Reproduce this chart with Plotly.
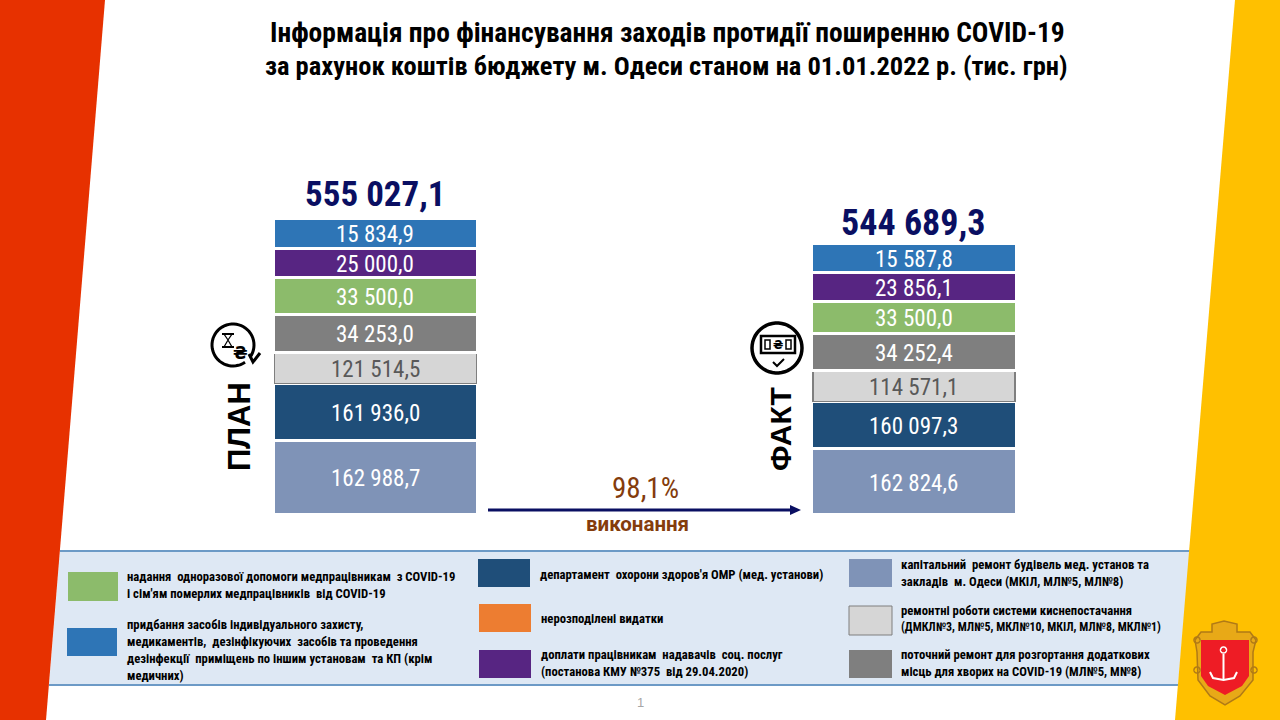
import math
import plotly.graph_objects as go

W, H = 1280, 720

columns = ["ПЛАН", "ФАКТ"]

# bottom to top, as stacked in the picture
series_names = [
    "капітальний ремонт",
    "департамент охорони здоров'я",
    "ремонтні роботи",
    "поточний ремонт",
    "одноразова допомога",
    "доплати",
    "засоби захисту",
]
plan_values = [162988.7, 161936.0, 121514.5, 34253.0, 33500.0, 25000.0, 15834.9]
fact_values = [162824.6, 160097.3, 114571.1, 34252.4, 33500.0, 23856.1, 15587.8]

# block heights, the blocks are not to scale with the labels
plan_heights = [74.5, 56.5, 31.5, 37.5, 37, 29.5, 29.5]
fact_heights = [66, 47, 31.5, 37, 32, 29, 28.5]

series_colors = ["#7F93B7", "#1F4E79", "#D6D6D6", "#7F7F7F", "#8CBB6B", "#572582", "#2E75B6"]
label_colors = ["white", "white", "#595959", "white", "white", "white", "white"]

plan_total = "555 027,1"
fact_total = "544 689,3"

title_lines = [
    "Інформація про фінансування заходів протидії поширенню COVID-19",
    "за рахунок коштів бюджету м. Одеси станом на 01.01.2022 р. (тис. грн)",
]

# colour, outline, swatch x, y, w, h, text x, text centre y, lines
legend_items = [
    ("#8CBB6B", None, 68, 572, 50, 29, 125, 585, ["надання  одноразової допомоги медпрацівникам  з COVID-19", "і сім'ям померлих медпрацівників  від COVID-19"]),
    ("#2E75B6", None, 67, 628, 50, 28, 125, 650, ["придбання засобів індивідуального захисту,", "медикаментів,  дезінфікуючих  засобів та проведення", "дезінфекції  приміщень по іншим установам  та КП (крім", "медичних)"]),
    ("#1F4E79", None, 478, 559, 52, 28, 538, 574, ["департамент  охорони здоров'я ОМР (мед. установи)"]),
    ("#ED7D31", None, 479, 604, 52, 28, 539, 618, ["нерозподілені видатки"]),
    ("#572582", None, 479, 650, 52, 28, 539, 663, ["доплати працівникам  надавачів  соц. послуг", "(постанова КМУ №375  від 29.04.2020)"]),
    ("#7F93B7", None, 849, 559, 43, 28, 899, 573, ["капітальний  ремонт будівель мед. установ та", "закладів  м. Одеси (МКІЛ, МЛ№5, МЛ№8)"]),
    ("#D6D6D6", "#7F7F7F", 849, 606, 43, 29, 899, 619, ["ремонтні роботи системи киснепостачання", "(ДМКЛ№3, МЛ№5, МКЛ№10, МКІЛ, МЛ№8, МКЛ№1)"]),
    ("#7F7F7F", None, 849, 650, 43, 28, 899, 663, ["поточний ремонт для розгортання додаткових", "місць для хворих на COVID-19 (МЛ№5, М№8)"]),
]

NARROW = "Roboto Condensed, Open Sans Condensed, Noto Sans Condensed, DejaVu Sans Condensed"
NAVY = "#0A0F62"
BROWN = "#843C0C"


def fmt(v):
    return f"{v:,.1f}".replace(",", " ").replace(".", ",")


def px(x):
    return x / W


def py(y):
    return 1 - y / H


def poly(points, fill, line=None, width=0, close=True, layer="below"):
    path = "M " + " L ".join(f"{px(x)} {py(y)}" for x, y in points) + (" Z" if close else "")
    return dict(type="path", xref="paper", yref="paper", path=path, fillcolor=fill,
                line=dict(color=line or fill, width=width), layer=layer)


def rect(x, y, w, h, fill, line=None, lw=0):
    return dict(type="rect", xref="paper", yref="paper", x0=px(x), x1=px(x + w), y0=py(y), y1=py(y + h),
                fillcolor=fill, line=dict(color=line or fill, width=lw), layer="below")


def stroke(points, color, width):
    return poly(points, "rgba(0,0,0,0)", color, width, close=False)


def arc(cx, cy, r, a0, a1, color, width, n=50):
    pts = []
    for k in range(n + 1):
        a = math.radians(a0 + (a1 - a0) * k / n)
        pts.append((cx + r * math.cos(a), cy - r * math.sin(a)))
    return stroke(pts, color, width)


def text(x, y, s, size, color="black", font=NARROW, bold=False, anchor="center", angle=0):
    if bold:
        s = f"<b>{s}</b>"
    return dict(x=px(x), y=py(y), xref="paper", yref="paper", text=s, showarrow=False, xanchor=anchor,
                yanchor="middle", textangle=angle, font=dict(family=font, size=size, color=color))


fig = go.Figure()
for i, name in enumerate(series_names):
    fig.add_trace(go.Bar(
        x=columns,
        y=[plan_heights[i], fact_heights[i]],
        name=name,
        width=0.375 if i == 2 else None,
        marker=dict(color=series_colors[i],
                    line=dict(color="#7F7F7F" if i == 2 else "white", width=1.2 if i == 2 else 3)),
        showlegend=False,
    ))

shapes = [
    # legend band
    poly([(60, 551), (1190, 551), (1178, 685), (49, 685)], "#DEE8F4"),
    dict(type="line", xref="paper", yref="paper", x0=px(60), x1=px(1190), y0=py(551), y1=py(551),
         line=dict(color="#6C9AC6", width=2), layer="below"),
    dict(type="line", xref="paper", yref="paper", x0=px(49), x1=px(1178), y0=py(685), y1=py(685),
         line=dict(color="#6C9AC6", width=2), layer="below"),
    # side bands
    poly([(0, 0), (105, 0), (46, 720), (0, 720)], "#E73100"),
    poly([(1235, 0), (1280, 0), (1280, 720), (1175, 720)], "#FFC000"),
    # arrow
    dict(type="line", xref="paper", yref="paper", x0=px(488), x1=px(792), y0=py(510), y1=py(510),
         line=dict(color=NAVY, width=3)),
    poly([(790, 505), (801, 510), (790, 515)], NAVY),
    # plan icon: open circle with arrow head and hourglass
    arc(233, 345, 21, -35, 305, "black", 3),
    stroke([(249, 354), (253, 362), (260, 353)], "black", 3),
    poly([(224, 334), (232, 334), (228, 340), (232, 347), (224, 347), (228, 340)], "white", "black", 1.2),
    stroke([(222, 334), (234, 334)], "black", 2),
    stroke([(222, 347), (234, 347)], "black", 2),
    # fact icon: circle, banknote, check mark
    arc(777, 348, 25, 0, 360, "black", 3.5),
    rect(761, 336, 34, 17, "white", "black", 2.5),
    rect(765, 340, 5, 9, "white", "black", 1.5),
    rect(786, 340, 5, 9, "white", "black", 1.5),
    stroke([(773, 362), (777, 366), (784, 359)], "black", 2),
    # emblem
    poly([(1195, 640), (1201, 632), (1212, 632), (1212, 624), (1224, 621), (1237, 624), (1237, 632),
          (1250, 632), (1256, 640), (1253, 652), (1253, 680), (1240, 696), (1225, 705), (1210, 696),
          (1198, 680), (1197, 652)], "#E8A917", "#B07A16", 1.5),
    poly([(1201, 640), (1249, 640), (1249, 676), (1242, 686), (1225, 695), (1208, 686), (1201, 676)], "#EE1C25"),
    arc(1197, 640, 3, 0, 360, "#B07A16", 1.5),
    arc(1254, 640, 3, 0, 360, "#B07A16", 1.5),
    arc(1197, 670, 3, 0, 360, "#B07A16", 1.5),
    arc(1254, 670, 3, 0, 360, "#B07A16", 1.5),
    arc(1223.5, 650, 3, 0, 360, "white", 1.5),
    stroke([(1223.5, 654), (1223.5, 680)], "white", 2),
    stroke([(1210, 672), (1213, 678), (1223.5, 680), (1234, 678), (1237, 672)], "white", 2),
]

annotations = [
    text(667, 33, title_lines[0], 27.5, bold=True),
    text(666, 65, title_lines[1], 26.5, bold=True),
    text(375, 195, plan_total, 35, NAVY, bold=True),
    text(913, 223, fact_total, 36, NAVY, bold=True),
    text(239, 427, "ПЛАН", 31, font="Liberation Sans", bold=True, angle=-90),
    text(780, 429, "ФАКТ", 30, font="Liberation Sans", bold=True, angle=-90),
    text(645, 488, "98,1%", 29, BROWN),
    text(637, 524, "виконання", 20.5, BROWN, font="Roboto", bold=True),
    text(640, 702, "1", 13, "#A6A6A6", font="Liberation Sans"),
    text(240, 353, "₴", 17, font="DejaVu Sans", bold=True),
    text(778, 344.5, "₴", 12, font="DejaVu Sans", bold=True),
]

# value labels, centred on each block and dropped a little like on the slide
for col, heights, values in [(columns[0], plan_heights, plan_values), (columns[1], fact_heights, fact_values)]:
    base = 0
    for i, h in enumerate(heights):
        annotations.append(dict(x=col, y=base + h / 2, xref="x", yref="y", text=fmt(values[i]), showarrow=False,
                                yshift=-1.5, font=dict(family=NARROW, size=23, color=label_colors[i])))
        base += h

for fill, line, x, y, w, h, tx, ty, lines in legend_items:
    shapes.append(rect(x, y, w, h, fill, line, 1 if line else 0))
    n = len(lines)
    for k, s in enumerate(lines):
        size = 11.9 if "ДМКЛ" in s else 12.7
        annotations.append(text(tx, ty + (k - (n - 1) / 2) * 16.7, s, size, bold=True, anchor="left"))

fig.update_layout(
    width=W, height=H,
    margin=dict(l=0, r=0, t=0, b=0),
    barmode="stack",
    bargap=0.621,
    plot_bgcolor="rgba(0,0,0,0)",
    paper_bgcolor="white",
    shapes=shapes,
    annotations=annotations,
)
fig.update_xaxes(visible=False, range=[-0.6973, 1.6797])
# 1 unit = 1 px, zero sits just under the bottom of the blocks
fig.update_yaxes(visible=False, range=[-205.5, 514.5])

fig.write_html("out.html", config=dict(displayModeBar=False), post_script="document.body.style.margin='0';")
